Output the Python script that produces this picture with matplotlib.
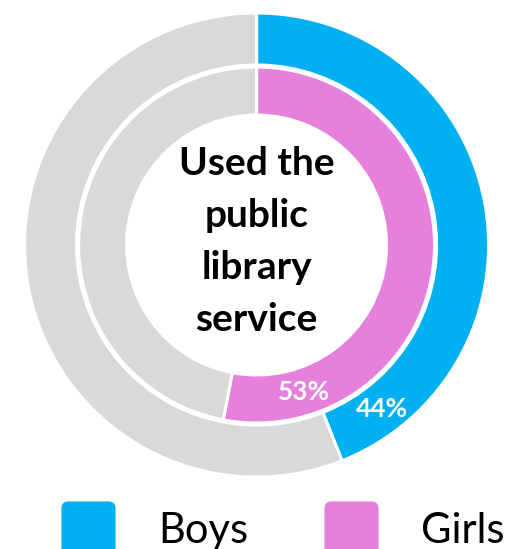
import numpy as np
import matplotlib.pyplot as plt
from matplotlib.lines import Line2D
from matplotlib.patches import FancyBboxPatch

groups = ['Boys', 'Girls']
shares = [44, 53]
colours = ['#00B0F0', '#E681DB']
rest_colour = '#D9D9D9'
centre_title = 'Used the\npublic\nlibrary\nservice'

plt.rcParams['font.family'] = ['Lato', 'DejaVu Sans']

fig = plt.figure(figsize=(5.09, 5.49), dpi=100)
ax = fig.add_axes([0, 0, 1, 1])

# outer ring = boys, inner ring = girls: (radius, ring width, where the % sits along the arc)
rings = [(1.0, 0.224, 0.9), (0.767, 0.207, 0.85)]
for (r, w, f), share, col in zip(rings, shares, colours):
    ax.pie([share, 100 - share], radius=r, colors=[col, rest_colour],
           startangle=90, counterclock=False,
           wedgeprops=dict(width=w, edgecolor='white', linewidth=2.2))
    ang = np.deg2rad(90 - 3.6 * share * f)
    rm = r - w / 2
    ax.text(rm * np.cos(ang), rm * np.sin(ang), f'{share}%', color='white',
            fontsize=19, fontweight='bold', ha='center', va='center')

ax.text(0, 0.015, centre_title, fontsize=28, fontweight='bold', ha='center',
        va='center', linespacing=1.58, color='black')

ax.set_aspect('auto')
ax.set_xlim(-1.106, 1.088)
ax.set_ylim(-1.310, 1.056)
ax.axis('off')

# rounded square for the legend keys
box = FancyBboxPatch((-0.5, -0.5), 1, 1, boxstyle='round,pad=0,rounding_size=0.12')
key = box.get_path()
handles = [Line2D([], [], ls='none', marker=key, markersize=38, color=c) for c in colours]
fig.legend(handles, groups, loc='center left', bbox_to_anchor=(0.122, 0.033),
           ncol=2, frameon=False, fontsize=30, borderpad=0, borderaxespad=0,
           handlelength=1.25, handletextpad=1.05, columnspacing=1.85)

fig.savefig('out.png', dpi=100)
